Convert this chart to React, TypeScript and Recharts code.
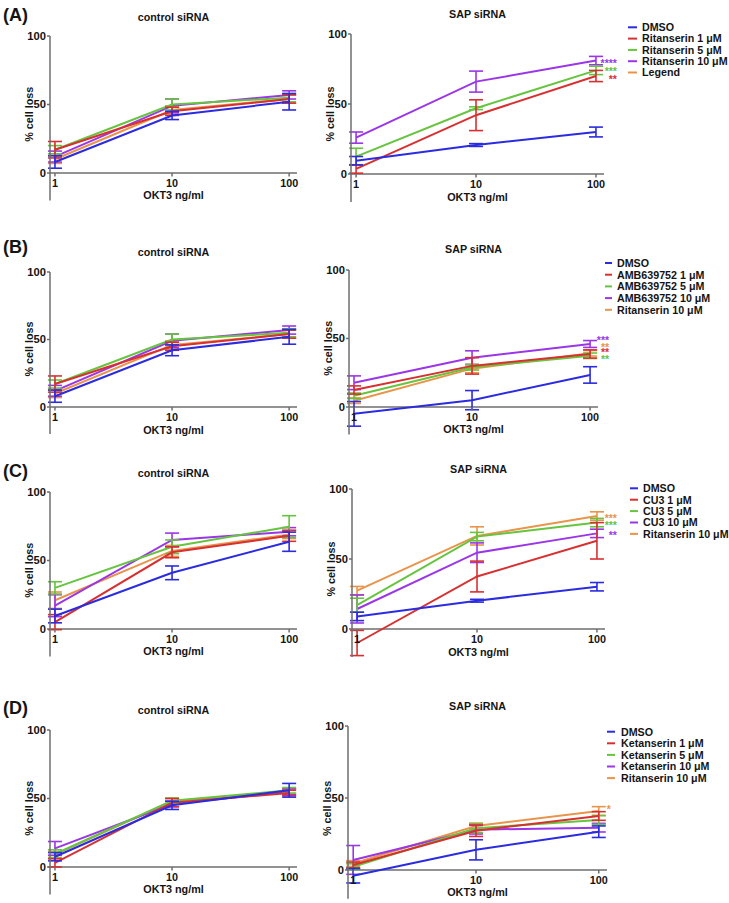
import React from 'react';
import { LineChart, Line, XAxis, YAxis, ErrorBar, ReferenceLine, ReferenceDot } from 'recharts';

// ---------- data ----------
const okt3Doses = [1, 10, 100];
const xTicks = [1, 10, 100];
const yTicks = [0, 50, 100];
const seriesColors = ['#2b2be0', '#d83030', '#66c43e', '#9a36e8', '#e8944a'];

const namesA = ['DMSO', 'Ritanserin 1 μM', 'Ritanserin 5 μM', 'Ritanserin 10 μM', 'Legend'];
const namesB = ['DMSO', 'AMB639752 1 μM', 'AMB639752 5 μM', 'AMB639752 10 μM', 'Ritanserin 10 μM'];
const namesC = ['DMSO', 'CU3 1 μM', 'CU3 5 μM', 'CU3 10 μM', 'Ritanserin 10 μM'];
const namesD = ['DMSO', 'Ketanserin 1 μM', 'Ketanserin 5 μM', 'Ketanserin 10 μM', 'Ritanserin 10 μM'];

// per series: [OKT3 1, 10, 100]
const ctrlAMean = [[8, 42, 52], [17, 45, 54], [17, 50, 55], [12, 49, 57], [10, 46, 54]];
const ctrlASd = [[4.5, 3, 6], [6, 3, 3], [3, 4, 3], [4, 5, 3], [3, 3, 3]];
const sapAMean = [[9.5, 20.7, 30], [3.6, 42, 70], [12.4, 47, 74], [26, 66, 81], null];
const sapASd = [[3, 1, 3.5], [3, 11, 4], [6, 1, 3], [4, 7.5, 3], null];

const ctrlBMean = [[8, 42, 52], [17, 45, 54], [17, 50, 55], [12, 49, 57], [10, 46, 54]];
const ctrlBSd = [[4.5, 4, 5.5], [6, 3, 3], [3, 4, 3], [4, 5, 3], [3, 3, 3]];
const sapBMean = [[-5, 5, 23.4], [12.4, 30, 38.7], [8.2, 29, 37.4], [17.7, 36, 46], [4.6, 28, 39.2]];
const sapBSd = [[9, 7, 6], [3, 6, 3], [2, 2, 2], [5, 5, 2.5], [2, 3, 2]];

const ctrlCMean = [[9.5, 41, 63.7], [5, 56, 68], [30, 60, 74.7], [17, 65, 71], [21, 57, 69]];
const ctrlCSd = [[5, 5, 7], [5.5, 4, 4], [4.5, 5, 8], [8, 5, 3], [6, 4, 3]];
const sapCMean = [[9, 20.2, 30.2], [-10, 37.5, 63], [17, 66, 76], [14.3, 54.5, 68.3], [27.4, 66.5, 80.7]];
const sapCSd = [[3, 1, 3], [9, 11, 13], [5, 3, 3], [10, 7, 3], [3, 6.5, 3]];

const ctrlDMean = [[7.5, 45, 56], [3, 47, 54], [9.5, 48.3, 56], [13.6, 46, 55], [9, 48, 55]];
const ctrlDSd = [[3, 3, 5], [3, 3, 2], [3, 2, 2], [5, 2, 2], [2, 2, 2]];
const sapDMean = [[-4, 14, 26.6], [3.5, 27.3, 37.5], [2.3, 29, 34.7], [7, 28, 29.4], [4.5, 30.6, 41]];
const sapDSd = [[5, 7, 4], [2, 4, 3], [2, 3, 3], [10, 3, 3], [2, 2, 3]];

// significance marks at OKT3 100 ng/ml: [series index, text, y position]
const starsA = [[3, '****', 80.5], [2, '***', 75], [1, '**', 69.5]];
const starsB = [[3, '***', 50.6], [4, '**', 45.3], [1, '**', 41.6], [2, '**', 36.7]];
const starsC = [[4, '***', 81], [2, '***', 75.5], [3, '**', 68.4]];
const starsD = [[4, '*', 44]];

// ---------- style ----------
const FONT = "'Liberation Sans', Arial, Helvetica, sans-serif";
const AXIS = '#6e6e6e';
const TXT = '#141414';
const xDomain = [0.907, 116.7];
const drawOrder = [4, 3, 2, 1, 0];

const YLabel = (props: any) => {
  const vb = props.viewBox || { x: 0, y: 0, width: 0, height: 0 };
  const cx = vb.x + vb.width - 21;
  const cy = vb.y + vb.height / 2 - 4;
  return (
    <text x={cx} y={cy} transform={`rotate(-90 ${cx} ${cy})`} textAnchor="middle" dominantBaseline="central"
      fontFamily={FONT} fontWeight="bold" fontSize={10.8} fill={TXT}>% cell loss</text>
  );
};

const XTitle = (props: any) => {
  const vb = props.viewBox || { x: 0, y: 0, width: 0, height: 0 };
  return (
    <text x={vb.x + vb.width / 2} y={vb.y + 26.5} textAnchor="middle" fontFamily={FONT} fontWeight="bold"
      fontSize={10.8} fill={TXT}>OKT3 ng/ml</text>
  );
};

const XTick = (props: any) => {
  const vb = props.viewBox || { x: 0, y: 0 };
  return (
    <g>
      <line x1={vb.x} y1={vb.y} x2={vb.x} y2={vb.y + 3.5} stroke={AXIS} strokeWidth={1.5} />
      <text x={vb.x} y={vb.y + 13.7} textAnchor="middle" fontFamily={FONT} fontWeight="bold" fontSize={10.8}
        fill={TXT}>{props.text}</text>
    </g>
  );
};

const StarText = (props: any) => {
  const vb = props.viewBox || { x: 0, y: 0 };
  return (
    <text x={vb.x + props.dx} y={vb.y + 6} textAnchor="end" fontFamily={FONT} fontWeight="bold" fontSize={10.5}
      fill={props.color}>{props.text}</text>
  );
};

function Plot({ means, sds, plotLeft, plotTop, plotW, h100, stars, starDx }: any) {
  const mt = 8;
  const mb = 4;
  const yw = 50;
  const mr = 40;
  const plotH = h100 * 1.2;
  const data = okt3Doses.map((x, i) => {
    const row: any = { x };
    means.forEach((m: any, s: number) => {
      if (m) {
        row['m' + s] = m[i];
        row['e' + s] = sds[s][i];
      }
    });
    return row;
  });
  return (
    <div style={{ position: 'absolute', left: plotLeft - yw, top: plotTop - mt }}>
      <LineChart width={yw + plotW + mr} height={mt + plotH + mb} data={data}
        margin={{ top: mt, right: mr, bottom: mb, left: 0 }} style={{ overflow: 'visible' }}>
        <XAxis type="number" dataKey="x" scale="log" domain={xDomain} allowDataOverflow hide />
        <YAxis type="number" domain={[-20, 100]} ticks={yTicks} width={yw} tickSize={3} tickMargin={1}
          allowDataOverflow interval={0}
          axisLine={{ stroke: AXIS, strokeWidth: 1.5 }} tickLine={{ stroke: AXIS, strokeWidth: 1.5 }}
          tick={{ fill: TXT, fontSize: 11.2, fontWeight: 'bold', fontFamily: FONT }}
          label={<YLabel />} />
        <ReferenceLine y={0} stroke={AXIS} strokeWidth={1.5} label={<XTitle />} />
        {xTicks.map((t) => (
          <ReferenceDot key={'t' + t} x={t} y={0} r={0} fill="none" stroke="none" label={<XTick text={String(t)} />} />
        ))}
        {drawOrder.filter((s) => means[s]).map((s) => (
          <Line key={'l' + s} type="linear" dataKey={'m' + s} stroke={seriesColors[s]} strokeWidth={2}
            dot={false} activeDot={false} isAnimationActive={false}>
            <ErrorBar dataKey={'e' + s} direction="y" width={7} stroke={seriesColors[s]} strokeWidth={1.6}
              isAnimationActive={false} />
          </Line>
        ))}
        {(stars || []).map((st: any, i: number) => (
          <ReferenceDot key={'s' + i} x={100} y={st[2]} r={0} fill="none" stroke="none"
            label={<StarText text={st[1]} color={seriesColors[st[0]]} dx={starDx} />} />
        ))}
      </LineChart>
    </div>
  );
}

function Legend({ names, x1, x2, tx, y0, step }: any) {
  return (
    <g>
      {names.map((n: string, i: number) => (
        <g key={n + i}>
          <line x1={x1} x2={x2} y1={y0 + i * step} y2={y0 + i * step} stroke={seriesColors[i]} strokeWidth={2} />
          <text x={tx} y={y0 + i * step + 3.8} fontFamily={FONT} fontWeight="bold" fontSize={10.7} fill={TXT}>{n}</text>
        </g>
      ))}
    </g>
  );
}

const panels = [
  {
    label: '(A)', labelY: 21, ctrlTitleY: 21, sapTitleY: 17.5,
    ctrl: { means: ctrlAMean, sds: ctrlASd, plotLeft: 50, plotTop: 36, plotW: 247, h100: 137 },
    sap: { means: sapAMean, sds: sapASd, plotLeft: 351, plotTop: 34, plotW: 253, h100: 140, stars: starsA, starDx: 21 },
    legend: { names: namesA, x1: 628, x2: 637, tx: 642, y0: 27.3, step: 11.3 },
  },
  {
    label: '(B)', labelY: 253, ctrlTitleY: 256, sapTitleY: 252.5,
    ctrl: { means: ctrlBMean, sds: ctrlBSd, plotLeft: 50, plotTop: 272, plotW: 247, h100: 135 },
    sap: { means: sapBMean, sds: sapBSd, plotLeft: 349, plotTop: 270, plotW: 249, h100: 137, stars: starsB, starDx: 19 },
    legend: { names: namesB, x1: 605, x2: 612, tx: 617, y0: 263, step: 11.7 },
  },
  {
    label: '(C)', labelY: 476.7, ctrlTitleY: 477, sapTitleY: 472.5,
    ctrl: { means: ctrlCMean, sds: ctrlCSd, plotLeft: 50, plotTop: 492, plotW: 247, h100: 137 },
    sap: { means: sapCMean, sds: sapCSd, plotLeft: 352, plotTop: 489, plotW: 253, h100: 140, stars: starsC, starDx: 20 },
    legend: { names: namesC, x1: 630, x2: 638, tx: 643, y0: 488.3, step: 11.4 },
  },
  {
    label: '(D)', labelY: 714, ctrlTitleY: 714, sapTitleY: 710,
    ctrl: { means: ctrlDMean, sds: ctrlDSd, plotLeft: 50, plotTop: 730, plotW: 247, h100: 137 },
    sap: { means: sapDMean, sds: sapDSd, plotLeft: 348, plotTop: 726, plotW: 259, h100: 144, stars: starsD, starDx: 12 },
    legend: { names: namesD, x1: 607, x2: 615, tx: 621, y0: 731.7, step: 11.6 },
  },
];

export default function App() {
  return (
    <div style={{ position: 'absolute', left: 0, top: 0, width: 729, height: 903, background: '#fff', overflow: 'hidden' }}>
      <svg width={729} height={903} style={{ position: 'absolute', left: 0, top: 0 }}>
        {panels.map((p) => (
          <g key={p.label}>
            <text x={3} y={p.labelY} fontFamily={FONT} fontWeight="bold" fontSize={18} fill={TXT}>{p.label}</text>
            <text x={p.ctrl.plotLeft + p.ctrl.plotW / 2} y={p.ctrlTitleY} textAnchor="middle" fontFamily={FONT}
              fontWeight="bold" fontSize={10.7} fill={TXT}>control siRNA</text>
            <text x={p.sap.plotLeft + p.sap.plotW / 2} y={p.sapTitleY} textAnchor="middle" fontFamily={FONT}
              fontWeight="bold" fontSize={10.7} fill={TXT}>SAP siRNA</text>
            <Legend {...p.legend} />
          </g>
        ))}
      </svg>
      {panels.map((p) => (
        <React.Fragment key={'c' + p.label}>
          <Plot {...p.ctrl} />
          <Plot {...p.sap} />
        </React.Fragment>
      ))}
    </div>
  );
}
